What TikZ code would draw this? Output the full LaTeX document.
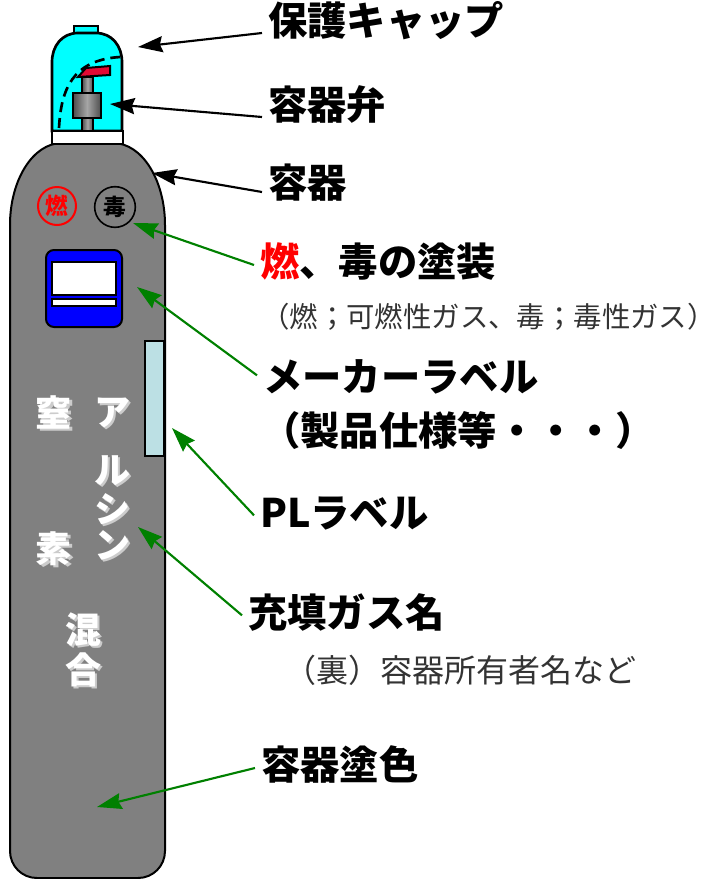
\documentclass[tikz,border=0pt]{standalone}
\usepackage{fontspec}
\setmainfont{Noto Sans CJK JP}
\usetikzlibrary{arrows.meta}

\definecolor{cylgray}{RGB}{128,128,128}
\definecolor{capcyan}{RGB}{0,255,255}
\definecolor{plblue}{RGB}{188,224,228}
\definecolor{tipgreen}{RGB}{0,128,0}
\definecolor{handlered}{RGB}{226,10,52}

\tikzset{
	head/.style={anchor=west,inner sep=0pt,outer xsep=4.5pt,text height=0.88em,text depth=0.12em,font=\fontsize{29.5}{31}\selectfont\bfseries},
	note/.style={anchor=west,inner sep=0pt,text height=0.88em,text depth=0.12em,text=black!80,font=\fontsize{21.3}{24}\selectfont},
	gaschar/.style={inner sep=0pt,text height=0.88em,text depth=0.12em,text=white,font=\fontsize{27}{28}\selectfont\bfseries},
	gasshadow/.style={gaschar,text=white!60!cylgray},
	valvepart/.style={draw,line width=1.5pt,left color=black!70,right color=black!70,middle color=black!35},
	pointer/.style={-{Stealth[length=18.5pt,width=12pt,inset=2pt]},line width=1.6pt},
}

\begin{document}
\begin{tikzpicture}[x=0.75pt,y=-0.75pt]
	\useasboundingbox (0,0) rectangle (721,879);

	\draw[fill=cylgray,line width=1.5pt] (10,225) .. controls (10,180) and (33,143) .. (62,143) -- (113,143)
		.. controls (142,143) and (165,180) .. (165,225) -- (165,851)
		.. controls (165,866) and (153,878) .. (138,878) -- (37,878)
		.. controls (22,878) and (10,866) .. (10,851) -- cycle;

	\draw[fill=capcyan,line width=2pt] (74,35) rectangle (98,26);
	\draw[fill=capcyan,line width=2pt] (52,131) -- (52,62) .. controls (52,46) and (62,33) .. (78,33) -- (96,33)
		.. controls (112,33) and (122,46) .. (122,62) -- (122,131) -- cycle;
	\draw[line width=2pt,dash pattern=on 7.5pt off 4.5pt] (59,128) .. controls (61,90) and (72,60) .. (120,57);

	\draw[valvepart] (82,118) rectangle (93,131);
	\draw[valvepart] (82,77) rectangle (93,93);
	\draw[valvepart] (73,93) rectangle (101,118);
	\draw[fill=handlered,line width=1.5pt] (78,77) -- (86,68) -- (110,66) -- (110,75) -- cycle;
	\draw[fill=white,line width=2pt] (52,131) rectangle (123,144);

	\node[circle,draw=red,line width=1.5pt,minimum size=28.5pt,inner sep=0pt,text=red,font=\fontsize{17}{18}\selectfont\bfseries] (burnmark) at (57,206) {燃};
	\node[circle,draw=black,line width=1.2pt,minimum size=30.5pt,inner sep=0pt,font=\fontsize{17}{18}\selectfont\bfseries] (toxmark) at (115,207) {毒};

	\draw[fill=blue,line width=1.5pt,rounded corners=6pt] (46,250) rectangle (122,327);
	\draw[fill=white,line width=1.5pt] (52,262) rectangle (116,295);
	\draw[fill=white,line width=1pt] (52,299) rectangle (116,306);

	\draw[fill=plblue,line width=1.5pt] (145,341) rectangle (164,456);

	\foreach \ch/\cx/\cy [count=\i] in {窒/54/421,素/54/557,ア/112/420,ル/112/478,シ/112/517,ン/112/553,混/83/638,合/83/678} {
		\node[gasshadow] at (\cx+2,\cy+2) {\ch};
		\node[gaschar] (gas\i) at (\cx,\cy) {\ch};
	}

	\coordinate (capTip) at (138,47);
	\coordinate (valveTip) at (110,104);
	\coordinate (cylTip) at (152,173);
	\coordinate (paintTip) at (133,223);
	\coordinate (makerTip) at (137,287);
	\coordinate (plTip) at (172,428);
	\coordinate (gasTip) at (138,527);
	\coordinate (colorTip) at (97,807);

	\node[head] (capname) at (262,30) {保護キャップ};
	\node[head] (valvename) at (262,114) {容器弁};
	\node[head] (cylname) at (262,192) {容器};
	\node[head] (paintname) at (254,271) {{\color{red}燃}、毒の塗装};
	\node[note] (paintnote) at (261,322) {（燃；可燃性ガス、毒；毒性ガス）};
	\node[head] (makername) at (257,386) {メーカーラベル};
	\node[head] (makernote) at (255,440) {（製品仕様等・・・）};
	\node[head] (plname) at (254,522) {PLラベル};
	\node[head] (gasname) at (242,622) {充填ガス名};
	\node[note,font=\fontsize{24}{26}\selectfont] (ownernote) at (284,677) {（裏）容器所有者名など};
	\node[head] (colorname) at (255,774) {容器塗色};

	\draw[pointer] ([yshift=-2.25pt]capname.west) -- (capTip);
	\draw[pointer] ([yshift=-2.25pt]valvename.west) -- (valveTip);
	\draw[pointer] (cylname.west) -- (cylTip);
	\draw[pointer,tipgreen] ([yshift=4.5pt]paintname.west) -- (paintTip);
	\draw[pointer,tipgreen] ([yshift=8pt]makername.west) -- (makerTip);
	\draw[pointer,tipgreen] ([yshift=5pt]plname.west) -- (plTip);
	\draw[pointer,tipgreen] ([yshift=5pt]gasname.west) -- (gasTip);
	\draw[pointer,tipgreen] ([yshift=4.5pt]colorname.west) -- (colorTip);
\end{tikzpicture}
\end{document}
